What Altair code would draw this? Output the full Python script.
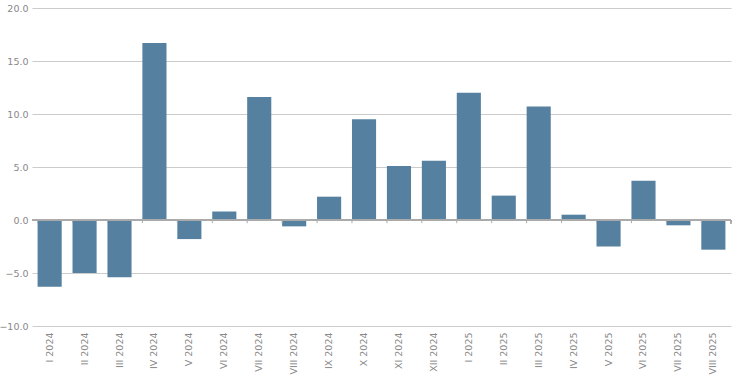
import altair as alt
import pandas as pd

categories = ["I 2024", "II 2024", "III 2024", "IV 2024", "V 2024", "VI 2024",
              "VII 2024", "VIII 2024", "IX 2024", "X 2024", "XI 2024", "XII 2024",
              "I 2025", "II 2025", "III 2025", "IV 2025", "V 2025", "VI 2025",
              "VII 2025", "VIII 2025"]
values = [-6.3, -5.0, -5.4, 16.7, -1.8, 0.8, 11.6, -0.6, 2.2, 9.5, 5.1, 5.6,
          12.0, 2.3, 10.7, 0.5, -2.5, 3.7, -0.5, -2.8]
y_ticks = [-10, -5, 0, 5, 10, 15, 20]

df = pd.DataFrame({"cat": categories, "val": values})

W, H = 699, 318
xscale = alt.Scale(paddingInner=0.31, paddingOuter=0.16)

bars = alt.Chart(df).mark_bar(color="#55809f").encode(
    x=alt.X("cat:N", sort=categories, scale=xscale,
            axis=alt.Axis(title=None, labelAngle=-90, domain=False, ticks=False,
                          labelColor="#888888", labelFont="DejaVu Sans",
                          labelFontSize=9.5, labelPadding=6)),
    y=alt.Y("val:Q", scale=alt.Scale(domain=[-10, 20], nice=False),
            axis=alt.Axis(title=None, values=y_ticks, format=".1f", domain=False,
                          ticks=False, grid=True, gridColor="#cccccc",
                          labelColor="#888888", labelFont="DejaVu Sans",
                          labelFontSize=9.5, labelPadding=4)),
)

zero_line = alt.Chart(df).mark_rule(color="#aaaaaa", strokeWidth=1).encode(
    y=alt.datum(0), x=alt.value(0), x2=alt.value(W)
)

ticks = alt.Chart(df).mark_rule(color="#aaaaaa", strokeWidth=1).encode(
    x=alt.X("cat:N", sort=categories, scale=xscale, bandPosition=0),
    y=alt.datum(0),
    y2=alt.datum(-0.3),
)

end_tick = alt.Chart(df).mark_rule(color="#aaaaaa", strokeWidth=1).encode(
    x=alt.value(W), y=alt.datum(0), y2=alt.datum(-0.3)
)

chart = alt.layer(bars, zero_line, ticks, end_tick).properties(
    width=W, height=H,
    background="white",
    autosize=alt.AutoSizeParams(type="none"),
    padding={"left": 32, "top": 8, "right": 9, "bottom": 65},
).configure_view(strokeWidth=0, stroke="transparent")

chart.save("out.html", embed_options={"renderer": "svg", "actions": False})
